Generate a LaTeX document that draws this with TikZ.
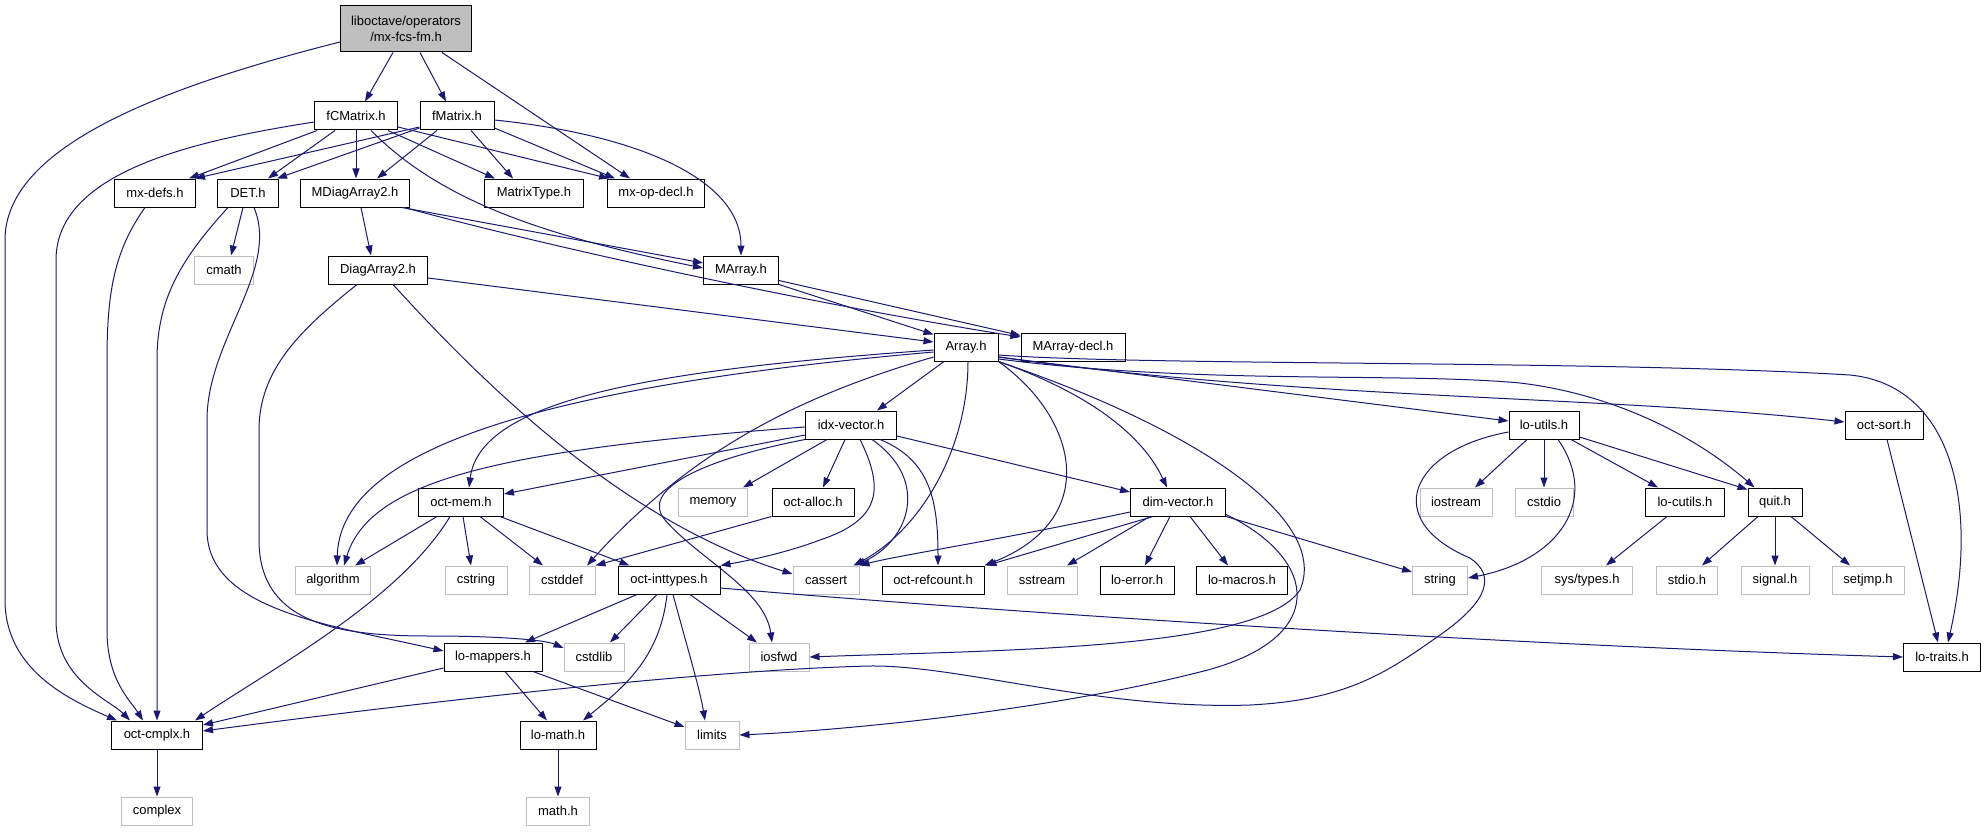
\documentclass[tikz,border=0pt]{standalone}
\usepackage{fontspec}
\setmainfont{Liberation Sans}
\usetikzlibrary{arrows.meta}
\definecolor{edgec}{HTML}{191970}
\definecolor{sysc}{HTML}{BFBFBF}
\begin{document}
\begin{tikzpicture}[x=1pt,y=-1pt,
  box/.style={draw=black,line width=1pt,minimum height=28pt,inner sep=0pt,font=\fontsize{13}{16}\selectfont},
  sys/.style={box,draw=sysc},
  edge/.style={draw=edgec,line width=1pt,-{Triangle[length=10pt,width=7pt]}},
]
\useasboundingbox (0,0) rectangle (1984,832);
% nodes
\node[box,fill=sysc,minimum width=131,minimum height=46,align=center] (root) at (406,29) {liboctave/operators\\/mx-fcs-fm.h};
\node[box,minimum width=83] (fcm) at (356,116) {fCMatrix.h};
\node[box,minimum width=74] (fm) at (457,116) {fMatrix.h};
\node[box,minimum width=81] (mxdefs) at (155,193) {mx-defs.h};
\node[box,minimum width=61] (det) at (248,193) {DET.h};
\node[box,minimum width=109] (mdiag) at (355,193) {MDiagArray2.h};
\node[box,minimum width=99] (mtype) at (534,193) {MatrixType.h};
\node[box,minimum width=97] (mxop) at (656,193) {mx-op-decl.h};
\node[sys,minimum width=59] (cmath) at (224,270) {cmath};
\node[box,minimum width=99] (diag) at (378,270) {DiagArray2.h};
\node[box,minimum width=75] (marray) at (741,270) {MArray.h};
\node[box,minimum width=64] (array) at (966,347) {Array.h};
\node[box,minimum width=104] (madecl) at (1073,347) {MArray-decl.h};
\node[box,minimum width=91] (idx) at (851,425) {idx-vector.h};
\node[box,minimum width=70] (loutils) at (1544,425) {lo-utils.h};
\node[box,minimum width=78] (octsort) at (1884,425) {oct-sort.h};
\node[box,minimum width=85] (octmem) at (461,502) {oct-mem.h};
\node[sys,minimum width=69] (memory) at (713,502) {memory};
\node[box,minimum width=82] (octalloc) at (813,502) {oct-alloc.h};
\node[box,minimum width=95] (dimvec) at (1178,502) {dim-vector.h};
\node[sys,minimum width=72] (iostream) at (1456,502) {iostream};
\node[sys,minimum width=58] (cstdio) at (1544,502) {cstdio};
\node[box,minimum width=79] (locutils) at (1685,502) {lo-cutils.h};
\node[box,minimum width=54] (quit) at (1775,502) {quit.h};
\node[sys,minimum width=75] (algorithm) at (333,580) {algorithm};
\node[sys,minimum width=62] (cstring) at (476,580) {cstring};
\node[sys,minimum width=66] (cstddef) at (562,580) {cstddef};
\node[box,minimum width=102] (octint) at (669,580) {oct-inttypes.h};
\node[sys,minimum width=66] (cassert) at (826,580) {cassert};
\node[box,minimum width=102] (refcount) at (933,580) {oct-refcount.h};
\node[sys,minimum width=70] (sstream) at (1042,580) {sstream};
\node[box,minimum width=74] (loerror) at (1137,580) {lo-error.h};
\node[box,minimum width=91] (lomacros) at (1242,580) {lo-macros.h};
\node[sys,minimum width=55] (string) at (1440,580) {string};
\node[sys,minimum width=91] (systypes) at (1587,580) {sys/types.h};
\node[sys,minimum width=61] (stdioh) at (1687,580) {stdio.h};
\node[sys,minimum width=68] (signal) at (1775,580) {signal.h};
\node[sys,minimum width=72] (setjmp) at (1868,580) {setjmp.h};
\node[box,minimum width=98] (lomappers) at (493,657) {lo-mappers.h};
\node[sys,minimum width=60] (cstdlib) at (594,657) {cstdlib};
\node[sys,minimum width=60] (iosfwd) at (779,657) {iosfwd};
\node[box,minimum width=77] (lotraits) at (1942,657) {lo-traits.h};
\node[box,minimum width=91] (octcmplx) at (157,735) {oct-cmplx.h};
\node[box,minimum width=76] (lomath) at (558,735) {lo-math.h};
\node[sys,minimum width=54] (limits) at (712,735) {limits};
\node[sys,minimum width=71] (complex) at (157,811) {complex};
\node[sys,minimum width=63] (mathh) at (558,811) {math.h};
% root edges
\draw[edge] ([xshift=-13]root.south) -- ([xshift=9]fcm.north);
\draw[edge] ([xshift=14]root.south) -- ([xshift=-11]fm.north);
\draw[edge] ([xshift=36]root.south) -- ([xshift=-26]mxop.north);
\draw[edge] ([yshift=-13]root.west) .. controls (150,90) and (5,150) .. (5,240) -- (5,600) .. controls (5,670) and (70,700) .. ([xshift=-40]octcmplx.north);
% fCMatrix edges
\draw[edge] ([yshift=-6]fcm.west) .. controls (200,140) and (56,170) .. (56,260) -- (56,620) .. controls (56,680) and (110,700) .. ([xshift=-27]octcmplx.north);
\draw[edge] ([xshift=-39]fcm.south) -- ([xshift=34]mxdefs.north);
\draw[edge] ([xshift=-21]fcm.south) -- ([xshift=20]det.north);
\draw[edge] (fcm.south) -- ([xshift=1]mdiag.north);
\draw[edge] ([xshift=32]fcm.south) -- ([xshift=-39]mtype.north);
\draw[edge] ([yshift=-11]fcm.east) -- ([xshift=2]mxop.north west);
\draw[edge] ([xshift=15]fcm.south) .. controls (440,200) and (540,235) .. ([yshift=2]marray.west);
% fMatrix edges
\draw[edge] ([yshift=-11]fm.west) -- ([xshift=40]mxdefs.north);
\draw[edge] ([yshift=-12]fm.west) -- ([xshift=29]det.north);
\draw[edge] ([xshift=-20]fm.south) -- ([xshift=22]mdiag.north);
\draw[edge] ([xshift=14]fm.south) -- ([xshift=-21]mtype.north);
\draw[edge] ([yshift=-12]fm.east) -- ([xshift=-41]mxop.north);
\draw[edge] ([yshift=-4]fm.east) .. controls (640,135) and (741,180) .. (marray.north);
% mx-defs, DET
\draw[edge] ([xshift=-10]mxdefs.south) .. controls (115,250) and (107,290) .. (107,360) -- (107,630) .. controls (107,680) and (130,700) .. ([xshift=-14]octcmplx.north);
\draw[edge] ([xshift=-20]det.south) .. controls (180,260) and (157,300) .. (157,360) -- (octcmplx.north);
\draw[edge] ([xshift=-5]det.south) -- ([xshift=7]cmath.north);
\draw[edge] ([xshift=6]det.south) .. controls (280,270) and (207,340) .. (207,420) -- (207,530) .. controls (207,610) and (330,625) .. ([yshift=6]lomappers.west);
% MDiagArray2, DiagArray2
\draw[edge] ([xshift=6]mdiag.south) -- ([xshift=-7]diag.north);
\draw[edge] ([xshift=-8]mdiag.south east) -- ([yshift=7]marray.west);
\draw[edge] ([xshift=-6]mdiag.south east) .. controls (600,260) and (850,310) .. ([yshift=10]madecl.west);
\draw[edge] ([xshift=-21]diag.south) .. controls (300,330) and (259,370) .. (259,430) -- (259,540) .. controls (259,625) and (340,636) .. (430,636) .. controls (500,636) and (545,640) .. ([yshift=9]cstdlib.west);
\draw[edge] ([yshift=-8]diag.east) -- ([yshift=5]array.west);
\draw[edge] ([xshift=15]diag.south) .. controls (480,380) and (620,520) .. ([yshift=6]cassert.west);
% MArray
\draw[edge] (marray.south east) -- ([yshift=-2]array.north west);
\draw[edge] ([yshift=4]marray.south east) -- ([yshift=-3]madecl.north west);
% Array
\draw[edge] ([xshift=-22]array.south) -- ([xshift=26]idx.north);
\draw[edge] ([yshift=-3]array.west) .. controls (650,370) and (480,400) .. ([xshift=8]octmem.north);
\draw[edge] ([yshift=-5]array.west) .. controls (500,390) and (340,460) .. ([xshift=4]algorithm.north);
\draw[edge] ([yshift=-10]array.west) .. controls (820,390) and (700,440) .. ([xshift=25]cstddef.north);
\draw[edge] ([xshift=2]array.south) .. controls (968,450) and (920,530) .. ([xshift=-6]cassert.north east);
\draw[edge] (array.south east) .. controls (1080,420) and (1100,520) .. (refcount.north east);
\draw[edge] (array.south east) .. controls (1080,390) and (1140,430) .. ([xshift=-11]dimvec.north);
\draw[edge] (array.south east) .. controls (1200,430) and (1330,520) .. (1300,590) .. controls (1260,650) and (1000,650) .. (iosfwd.east);
\draw[edge] ([yshift=-10]array.east) -- ([yshift=4]loutils.west);
\draw[edge] ([yshift=-10]array.east) .. controls (1300,400) and (1600,395) .. ([yshift=3]octsort.west);
\draw[edge] ([yshift=-12]array.east) .. controls (1200,385) and (1400,372) .. (1520,383) .. controls (1620,395) and (1700,440) .. ([xshift=7]quit.north west);
\draw[edge] ([yshift=-8]array.east) .. controls (1150,366) and (1600,360) .. (1850,375) .. controls (1950,385) and (1980,500) .. ([xshift=6]lotraits.north);
% idx-vector
\draw[edge] ([yshift=-2]idx.west) .. controls (500,450) and (370,480) .. ([xshift=11]algorithm.north);
\draw[edge] ([yshift=-10]idx.west) -- ([yshift=8]octmem.east);
\draw[edge] (idx.south west) .. controls (700,460) and (640,490) .. (665,520) .. controls (700,560) and (765,590) .. ([xshift=-7]iosfwd.north);
\draw[edge] ([xshift=-24]idx.south) -- ([xshift=30]memory.north);
\draw[edge] ([xshift=-6]idx.south) -- ([xshift=10]octalloc.north);
\draw[edge] ([xshift=9]idx.south) .. controls (885,490) and (880,520) .. (820,540) .. controls (780,555) and (740,562) .. (octint.north east);
\draw[edge] ([xshift=21]idx.south) .. controls (930,480) and (910,540) .. ([xshift=-4]cassert.north east);
\draw[edge] ([xshift=29]idx.south) .. controls (930,460) and (938,500) .. ([xshift=5]refcount.north);
\draw[edge] ([yshift=-11]idx.east) -- ([yshift=10]dimvec.west);
\draw[edge] (octalloc.south west) -- (cstddef.north east);
% oct-mem
\draw[edge] ([xshift=-24]octmem.south) -- ([xshift=22]algorithm.north);
\draw[edge] ([xshift=2]octmem.south) -- ([xshift=-5]cstring.north);
\draw[edge] ([xshift=19]octmem.south) -- ([xshift=-19]cstddef.north);
\draw[edge] ([xshift=39]octmem.south) -- ([xshift=12]octint.north west);
\draw[edge] ([xshift=-11]octmem.south) .. controls (400,600) and (270,670) .. ([xshift=38]octcmplx.north);
% oct-inttypes
\draw[edge] ([xshift=-32]octint.south) -- ([xshift=32]lomappers.north);
\draw[edge] ([xshift=-12]octint.south) -- ([xshift=16]cstdlib.north);
\draw[edge] ([xshift=-2]octint.south) .. controls (660,660) and (620,690) .. ([xshift=25]lomath.north);
\draw[edge] ([xshift=4]octint.south) .. controls (688,650) and (700,690) .. ([xshift=-7]limits.north);
\draw[edge] ([xshift=21]octint.south) -- ([xshift=-22]iosfwd.north);
\draw[edge] ([yshift=-8]octint.east) .. controls (1000,612) and (1500,645) .. (lotraits.west);
% dim-vector
\draw[edge] ([yshift=-10]dimvec.west) .. controls (1000,540) and (900,555) .. (cassert.north east);
\draw[edge] ([xshift=-25]dimvec.south) -- ([xshift=2]refcount.north east);
\draw[edge] ([xshift=-28]dimvec.south) -- ([xshift=25]sstream.north);
\draw[edge] ([xshift=-8]dimvec.south) -- ([xshift=8]loerror.north);
\draw[edge] ([xshift=12]dimvec.south) -- ([xshift=-14]lomacros.north);
\draw[edge] (dimvec.south east) -- ([yshift=8]string.west);
\draw[edge] ([yshift=2]dimvec.south east) .. controls (1320,560) and (1330,640) .. (1200,672) .. controls (1050,710) and (850,730) .. (limits.east);
% lo-utils
\draw[edge] ([xshift=-17]loutils.south) -- ([xshift=19]iostream.north);
\draw[edge] (loutils.south) -- (cstdio.north);
\draw[edge] ([xshift=14]loutils.south) .. controls (1600,500) and (1560,560) .. ([yshift=2]string.east);
\draw[edge] ([xshift=27]loutils.south) -- ([xshift=-27]locutils.north);
\draw[edge] ([yshift=-12]loutils.east) -- ([yshift=-2]quit.north west);
\draw[edge] ([yshift=-7]loutils.west) .. controls (1410,450) and (1380,520) .. (1470,558) .. controls (1495,575) and (1490,600) .. (1440,635) .. controls (1390,670) and (1350,700) .. (1250,705) .. controls (1100,710) and (960,665) .. (870,666) .. controls (700,670) and (400,705) .. ([yshift=4]octcmplx.east);
% others
\draw[edge] ([xshift=-18]locutils.south) -- ([xshift=19]systypes.north);
\draw[edge] ([xshift=-17]quit.south) -- ([xshift=15]stdioh.north);
\draw[edge] (quit.south) -- (signal.north);
\draw[edge] ([xshift=16]quit.south) -- ([xshift=-18]setjmp.north);
\draw[edge] ([xshift=3]octsort.south) -- ([xshift=-4]lotraits.north);
\draw[edge] ([yshift=-11]lomappers.west) -- ([yshift=10]octcmplx.east);
\draw[edge] ([xshift=12]lomappers.south) -- ([xshift=-11]lomath.north);
\draw[edge] ([xshift=40]lomappers.south) -- ([yshift=8]limits.west);
\draw[edge] (lomath.south) -- (mathh.north);
\draw[edge] (octcmplx.south) -- (complex.north);
\end{tikzpicture}
\end{document}
